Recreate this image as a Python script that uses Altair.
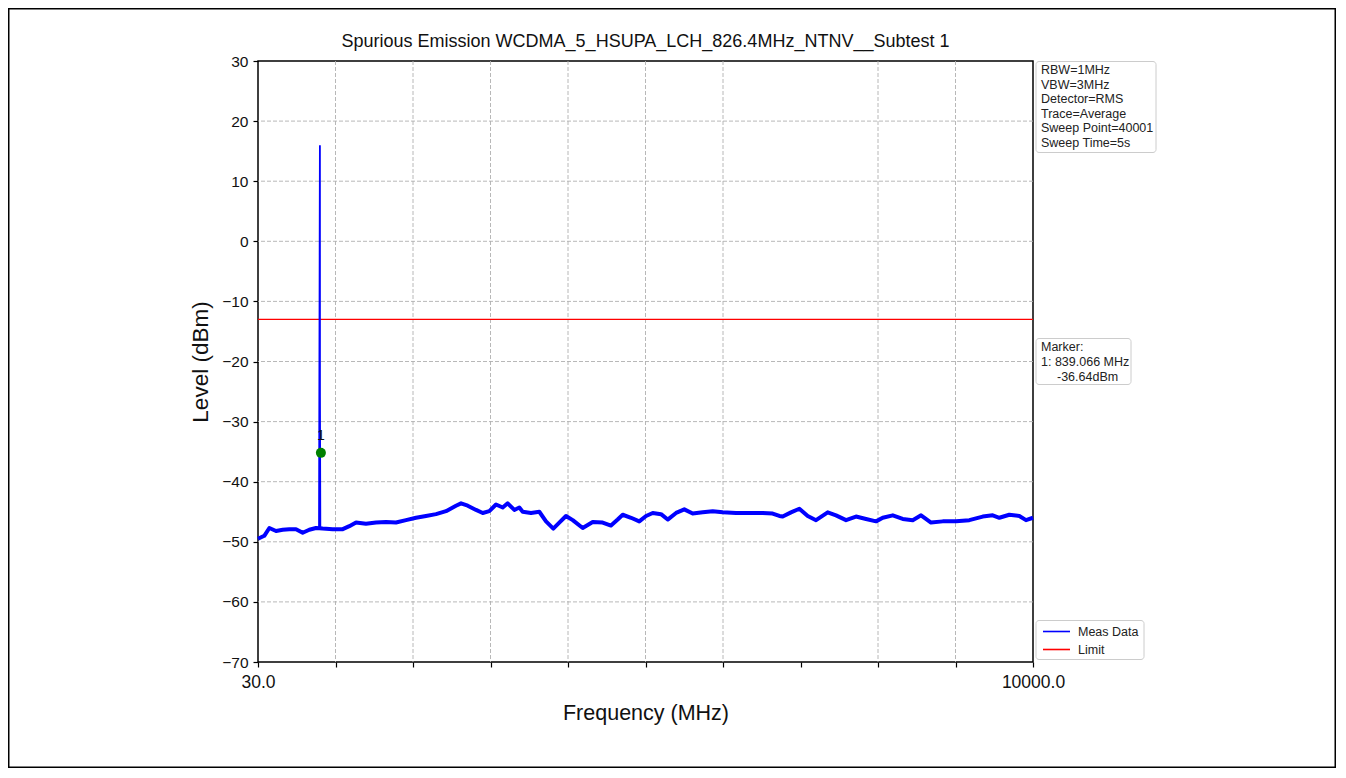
import altair as alt
import pandas as pd

# ---------------- data ----------------
freq_mhz = [30, 111, 176, 262, 348, 433, 519, 605, 690, 776, 862, 991, 1120, 1205,
            1291, 1419, 1548, 1677, 1805, 1934, 2063, 2191, 2320, 2449, 2577, 2642,
            2728, 2835, 2921, 3006, 3092, 3178, 3242, 3328, 3392, 3435, 3542, 3649,
            3735, 3829, 3906, 3992, 4079, 4207, 4336, 4464, 4571, 4657, 4722, 4829,
            4935, 5022, 5108, 5215, 5301, 5408, 5514, 5622, 5751, 5880, 6008, 6179,
            6351, 6523, 6651, 6737, 6780, 6887, 6994, 7102, 7209, 7359, 7466, 7595,
            7723, 7852, 7981, 8067, 8196, 8324, 8453, 8560, 8688, 8839, 9010, 9181,
            9353, 9482, 9567, 9695, 9824, 9910, 10000]
level_dbm = [-49.5, -49.0, -47.7, -48.2, -48.0, -47.9, -47.9, -48.5, -48.0, -47.7,
             -47.8, -47.9, -47.9, -47.4, -46.8, -47.0, -46.8, -46.7, -46.8, -46.4,
             -46.0, -45.7, -45.4, -44.9, -44.0, -43.6, -44.0, -44.7, -45.2, -44.9,
             -43.8, -44.3, -43.6, -44.7, -44.3, -45.0, -45.2, -45.0, -46.6, -47.8,
             -46.8, -45.7, -46.4, -47.7, -46.7, -46.8, -47.3, -46.3, -45.5, -46.0,
             -46.6, -45.7, -45.2, -45.4, -46.3, -45.2, -44.6, -45.3, -45.1, -44.9,
             -45.1, -45.2, -45.2, -45.2, -45.3, -45.7, -45.8, -45.1, -44.5, -45.7,
             -46.4, -45.1, -45.6, -46.4, -45.8, -46.2, -46.6, -46.0, -45.6, -46.2,
             -46.4, -45.6, -46.8, -46.6, -46.6, -46.4, -45.8, -45.6, -46.0, -45.5,
             -45.7, -46.4, -46.0]

spike_freq = [815, 826.4, 827.0, 832]
spike_level = [-47.7, 16.0, -26.0, -47.8]

limit_dbm = [-13]
marker_freq = [839.066]
marker_level = [-35.2]
marker_label = "1"

x_ticks = [30, 1027, 2024, 3021, 4018, 5015, 6012, 7009, 8006, 9003, 10000]
y_ticks = [-70, -60, -50, -40, -30, -20, -10, 0, 10, 20, 30]
grid_x = [1027, 2024, 3021, 4018, 5015, 6012, 8006, 9003]
grid_y = [-60, -50, -40, -30, -20, -10, 0, 10, 20]

info_lines = ["RBW=1MHz", "VBW=3MHz", "Detector=RMS", "Trace=Average",
              "Sweep Point=40001", "Sweep Time=5s"]
marker_lines = ["Marker:", "1: 839.066 MHz"]
marker_value_line = "-36.64dBm"
legend_names = ["Meas Data", "Limit"]
legend_colors = ["#0000ff", "#ff0000"]

title_text = "Spurious Emission WCDMA_5_HSUPA_LCH_826.4MHz_NTNV__Subtest 1"

# ---------------- chart ----------------
FONT = "Liberation Sans"
W, H = 775, 601

xs = alt.Scale(domain=[30, 10000], nice=False, zero=False)
ys = alt.Scale(domain=[-70, 30], nice=False, zero=False)

x_axis = alt.Axis(values=x_ticks, title="Frequency (MHz)",
                  labelExpr="datum.value == 30 || datum.value == 10000 ? format(datum.value, '.1f') : ''",
                  labelFontSize=17.5, titleFontSize=21.5, labelPadding=6, titlePadding=12,
                  labelOverlap=False, labelFlush=False, labelBound=False)
y_axis = alt.Axis(values=y_ticks, title="Level (dBm)", format="d",
                  labelFontSize=15.5, titleFontSize=22.5, labelPadding=5, titlePadding=9)

xenc = alt.X("freq:Q", scale=xs, axis=x_axis)
yenc = alt.Y("level:Q", scale=ys, axis=y_axis)

one = pd.DataFrame({"k": [0]})

grid_v = alt.Chart(pd.DataFrame({"freq": grid_x})).mark_rule(
    color="#b0b0b0", strokeDash=[4, 2], strokeWidth=0.9).encode(x=xenc)
grid_h = alt.Chart(pd.DataFrame({"level": grid_y})).mark_rule(
    color="#b0b0b0", strokeDash=[4, 2], strokeWidth=0.9).encode(y=yenc)

trace = alt.Chart(pd.DataFrame({"freq": freq_mhz, "level": level_dbm})).mark_line(
    color=legend_colors[0], strokeWidth=4, strokeJoin="round").encode(x=xenc, y=yenc)
spike = alt.Chart(pd.DataFrame({"freq": spike_freq, "level": spike_level})).mark_line(
    color=legend_colors[0], strokeWidth=1.8).encode(x=xenc, y=yenc)

limit = alt.Chart(pd.DataFrame({"level": limit_dbm})).mark_rule(
    color=legend_colors[1], strokeWidth=1.3).encode(y=yenc)

mk = pd.DataFrame({"freq": marker_freq, "level": marker_level})
marker = alt.Chart(mk).mark_point(shape="circle", filled=True, color="#008000",
                                  size=100, opacity=1).encode(x=xenc, y=yenc)
marker_txt = alt.Chart(mk).mark_text(text=marker_label, dy=-17, fontSize=14,
                                     font=FONT, color="#111").encode(x=xenc, y=yenc)

title = alt.Chart(one).mark_text(text=title_text, fontSize=18, font=FONT,
                                 color="#111", align="center", baseline="middle").encode(
    x=alt.value(W / 2), y=alt.value(-19))

# annotation boxes
box_style = dict(fill="white", stroke="#cccccc", strokeWidth=1, cornerRadius=3)
box1 = alt.Chart(one).mark_rect(**box_style).encode(
    x=alt.value(778), x2=alt.value(898), y=alt.value(0.5), y2=alt.value(91.5))
info = alt.Chart(one).mark_text(text=info_lines, align="left", baseline="top",
                                lineHeight=14.5, fontSize=12.5, font=FONT,
                                color="#222").encode(x=alt.value(783), y=alt.value(3))

box2 = alt.Chart(one).mark_rect(**box_style).encode(
    x=alt.value(778), x2=alt.value(873), y=alt.value(277.5), y2=alt.value(323.5))
mtxt = alt.Chart(one).mark_text(text=marker_lines, align="left", baseline="top",
                                lineHeight=15, fontSize=12.5, font=FONT,
                                color="#222").encode(x=alt.value(783), y=alt.value(280))
mval = alt.Chart(one).mark_text(text=marker_value_line, align="left", baseline="top",
                                fontSize=12.5, font=FONT,
                                color="#222").encode(x=alt.value(799), y=alt.value(310))

box3 = alt.Chart(one).mark_rect(**box_style).encode(
    x=alt.value(778), x2=alt.value(886), y=alt.value(559.5), y2=alt.value(598.5))
leg_l1 = alt.Chart(one).mark_rule(color=legend_colors[0], strokeWidth=1.6).encode(
    x=alt.value(785), x2=alt.value(812), y=alt.value(570.5))
leg_l2 = alt.Chart(one).mark_rule(color=legend_colors[1], strokeWidth=1.6).encode(
    x=alt.value(785), x2=alt.value(812), y=alt.value(588.5))
leg_t1 = alt.Chart(one).mark_text(text=legend_names[0], align="left", baseline="middle",
                                  fontSize=12.5, font=FONT, color="#222").encode(
    x=alt.value(820), y=alt.value(571))
leg_t2 = alt.Chart(one).mark_text(text=legend_names[1], align="left", baseline="middle",
                                  fontSize=12.5, font=FONT, color="#222").encode(
    x=alt.value(820), y=alt.value(589))

border = alt.Chart(one).mark_rect(fillOpacity=0, stroke="black", strokeWidth=1.5).encode(
    x=alt.value(-249.25), x2=alt.value(1077.25), y=alt.value(-52.25), y2=alt.value(706.25))

chart = alt.layer(
    grid_v, grid_h, limit, trace, spike, marker, marker_txt, title,
    box1, info, box2, mtxt, mval, box3, leg_l1, leg_l2, leg_t1, leg_t2, border
).properties(
    width=W, height=H,
    autosize=alt.AutoSizeParams(type="none"),
    padding={"left": 250, "top": 53, "right": 303, "bottom": 106},
    background="white",
).configure_view(
    stroke="black", strokeWidth=1.5
).configure_axis(
    domain=False, grid=False, tickColor="black", tickWidth=1.2, tickSize=5,
    labelFont=FONT, titleFont=FONT, labelColor="#111", titleColor="#111",
    titleFontWeight="normal"
)

chart.save("out.html", embed_options={"renderer": "svg", "actions": False})
